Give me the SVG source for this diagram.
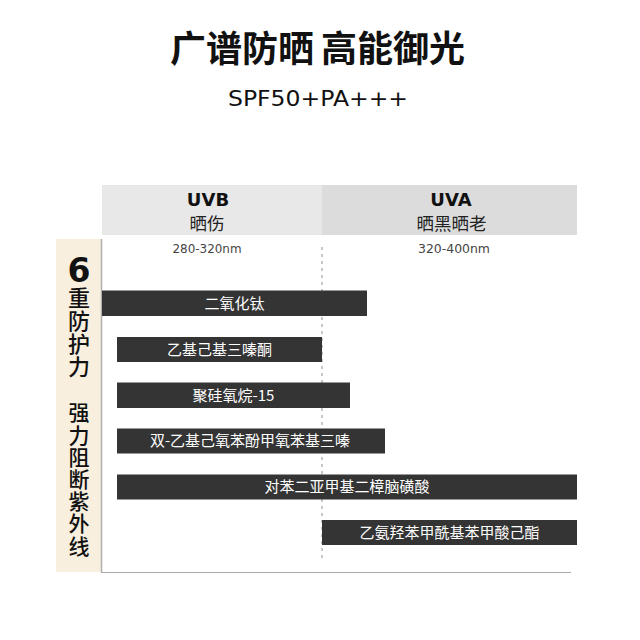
<svg xmlns="http://www.w3.org/2000/svg" width="640" height="640" viewBox="0 0 640 640">
<style>
.cjk{font-family:"Noto Sans CJK SC","Noto Sans",sans-serif;}
.lat{font-family:"DejaVu Sans","Noto Sans CJK SC",sans-serif;}
.bar{fill:#343434;}
.bt{font-family:"Noto Sans CJK SC",sans-serif;font-size:15px;fill:#ffffff;text-anchor:middle;}
.vt{font-family:"Noto Sans CJK SC",sans-serif;font-weight:500;fill:#111;writing-mode:vertical-rl;text-orientation:upright;}
.hd1{font-family:"DejaVu Sans",sans-serif;font-size:18px;font-weight:700;fill:#111;text-anchor:middle;}
.hd2{font-family:"Noto Sans CJK SC",sans-serif;font-size:17.5px;font-weight:400;fill:#222;text-anchor:middle;}
</style>
<rect width="640" height="640" fill="#ffffff"/>
<g id="title">
<text class="cjk" x="170" y="62" font-size="36" font-weight="700" fill="#111">广谱防晒</text>
<text class="cjk" x="321" y="62" font-size="36" font-weight="700" fill="#111">高能御光</text>
<text class="lat" x="0" y="0" font-size="21" fill="#111" transform="translate(228,106) scale(1.12,1)">SPF50+PA+++</text>
</g>
<g id="header">
<rect x="102" y="185" width="220" height="50" fill="#e8e8e8"/>
<rect x="322" y="185" width="255" height="50" fill="#dcdcdc"/>
<text class="hd1" x="208" y="206">UVB</text>
<text class="hd2" x="207" y="230">晒伤</text>
<text class="lat" x="207" y="253" font-size="11.5" fill="#444" text-anchor="middle" textLength="69" lengthAdjust="spacingAndGlyphs">280-320nm</text>
<text class="hd1" x="451" y="206">UVA</text>
<text class="hd2" x="451.5" y="230">晒黑晒老</text>
<text class="lat" x="454" y="253" font-size="11.5" fill="#444" text-anchor="middle" textLength="72" lengthAdjust="spacingAndGlyphs">320-400nm</text>
</g>
<g id="side">
<rect x="56" y="239" width="45" height="333" fill="#f8efdf"/>
<text class="lat" x="79" y="282" font-size="33" font-weight="700" fill="#111" text-anchor="middle">6</text>
<text class="vt" x="79" y="287" font-size="22" letter-spacing="1">重防护力</text>
<text class="vt" x="79" y="402" font-size="21" letter-spacing="1.2">强力阻断紫外线</text>
</g>
<g id="axes" fill="none">
<line x1="101.5" y1="239" x2="101.5" y2="572.5" stroke="#b0b0b0" stroke-width="1.5"/>
<line x1="101" y1="572.5" x2="571" y2="572.5" stroke="#aaaaaa" stroke-width="1.2"/>
<line x1="322" y1="247" x2="322" y2="562" stroke="#b5b5b5" stroke-width="1.5" stroke-dasharray="3 4"/>
</g>
<g id="bar1"><rect class="bar" x="102" y="290.5" width="265" height="25.5"/><text class="bt" x="234.5" y="308.5">二氧化钛</text></g>
<g id="bar2"><rect class="bar" x="117" y="337" width="205" height="25"/><text class="bt" x="219.5" y="354.5">乙基己基三嗪酮</text></g>
<g id="bar3"><rect class="bar" x="117" y="382.5" width="233" height="25.5"/><text class="bt" x="233.5" y="400.5">聚硅氧烷-15</text></g>
<g id="bar4"><rect class="bar" x="117" y="428.5" width="268" height="25"/><text class="bt" x="250" y="446">双-乙基己氧苯酚甲氧苯基三嗪</text></g>
<g id="bar5"><rect class="bar" x="117" y="474.5" width="460" height="25"/><text class="bt" x="347" y="492">对苯二亚甲基二樟脑磺酸</text></g>
<g id="bar6"><rect class="bar" x="322" y="520" width="255" height="25"/><text class="bt" x="449.5" y="537.5">乙氨羟苯甲酰基苯甲酸己酯</text></g>
</svg>
